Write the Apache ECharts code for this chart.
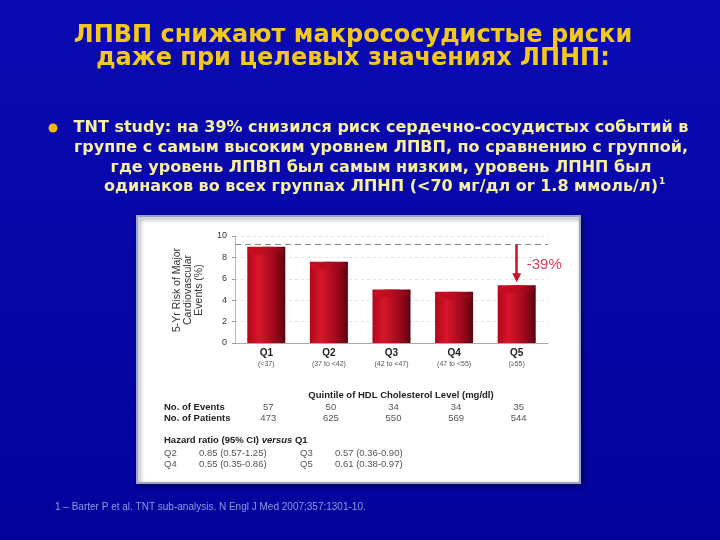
<!DOCTYPE html>
<html><head><meta charset="utf-8">
<script src="https://cdn.jsdelivr.net/npm/echarts@6/dist/echarts.min.js"></script>
<style>html,body{margin:0;padding:0;background:#0606a4}#c{width:720px;height:540px}</style>
</head><body><div id="c"></div>
<script>
const categories = ['Q1','Q2','Q3','Q4','Q5'];
const ranges = ['(<37)','(37 to <42)','(42 to <47)','(47 to <55)','(≥55)'];
const riskValues = [9.0, 7.6, 5.0, 4.8, 5.4];
const refLevel = 9.2;
const arrowEnd = 6.1;
const yTicks = [0, 2, 4, 6, 8, 10];
const events = [57, 50, 34, 34, 35];
const patients = [473, 625, 550, 569, 544];
const hazardRows = [
  ['Q2', '0.85 (0.57-1.25)', 'Q3', '0.57 (0.36-0.90)'],
  ['Q4', '0.55 (0.35-0.86)', 'Q5', '0.61 (0.38-0.97)']
];
const titleLines = ['ЛПВП снижают макрососудистые риски', 'даже при целевых значениях ЛПНП:'];
const bulletLines = [
  'TNT study: на 39% снизился риск сердечно-сосудистых событий в',
  'группе с самым высоким уровнем ЛПВП, по сравнению с группой,',
  'где уровень ЛПВП был самым низким, уровень ЛПНП был',
  'одинаков во всех группах ЛПНП (<70 мг/дл or 1.8 ммоль/л)'
];
const footnote = '1 – Barter P et al. TNT sub-analysis. N Engl J Med 2007;357:1301-10.';

const chart = echarts.init(document.getElementById('c'), null, {renderer:'canvas'});
const barGrad = new echarts.graphic.LinearGradient(0,0,1,0,[
  {offset:0,color:'#b00818'},{offset:0.3,color:'#d8162c'},{offset:0.7,color:'#a0081a'},{offset:1,color:'#5a0410'}]);
const topGrad = new echarts.graphic.LinearGradient(0,0,1,0,[
  {offset:0,color:'#c8101f'},{offset:0.5,color:'#b80c20'},{offset:1,color:'#7a0614'}]);
const F = 'Liberation Sans, Arial, sans-serif';
const BF = '"DejaVu Sans", Verdana, sans-serif';

const option = {
  backgroundColor: new echarts.graphic.LinearGradient(0,0,0,1,[{offset:0,color:'#0a0ab2'},{offset:1,color:'#03039c'}]),
  animation:false,
  grid:{left:235, top:236, width:313, height:107, containLabel:false},
  xAxis:{type:'category', data:categories,
    axisLine:{show:true, lineStyle:{color:'#aaaaaa', width:1}},
    axisTick:{show:false},
    axisLabel:{interval:0, margin:4, lineHeight:12,
      formatter:(v,i)=>'{a|'+v+'}\n{b|'+ranges[i]+'}',
      rich:{a:{fontFamily:F, fontSize:10, fontWeight:'bold', color:'#222', lineHeight:12},
            b:{fontFamily:F, fontSize:7, color:'#555', lineHeight:10}}}},
  yAxis:{type:'value', min:0, max:10, interval:2,
    axisLine:{show:true, lineStyle:{color:'#bbbbbb'}},
    axisTick:{show:true, length:3, lineStyle:{color:'#999'}},
    axisLabel:{fontFamily:F, fontSize:9, color:'#333', margin:8},
    splitLine:{show:true, lineStyle:{color:'#e0e0e0', type:[3,3]}}},
  series:[
    {type:'bar', data:riskValues, barWidth:38, z:2, itemStyle:{color:barGrad},
     markLine:{silent:true, symbol:'none', z:1, label:{show:false},
       lineStyle:{color:'#888', type:[6,4], width:1},
       data:[{yAxis:refLevel}]}},
    {type:'pictorialBar', data:riskValues, symbol:'circle', symbolSize:[38,8],
     symbolPosition:'start', z:1, itemStyle:{color:'#6a0612'}},
    {type:'pictorialBar', data:riskValues, symbol:'circle', symbolSize:[38,8],
     symbolPosition:'end', z:3, itemStyle:{color:topGrad}},
    {type:'line', data:[], z:5,
     markLine:{silent:true, symbol:['none','triangle'], symbolSize:[9,9],
       lineStyle:{color:'#c8102a', width:2.5, type:'solid'},
       label:{show:false},
       data:[[{coord:['Q5', refLevel]},{coord:['Q5', arrowEnd]}]]}},
    {type:'scatter', data:[['Q5', 7.3]], symbolSize:0, z:6,
     label:{show:true, position:'right', offset:[5,0], formatter:'-39%',
       fontFamily:F, fontSize:15, color:'#c8102a'}}
  ]
};
chart.setOption(option);

const px = (c,v)=>chart.convertToPixel({xAxisIndex:0,yAxisIndex:0},[c,v]);
const ctx = document.createElement('canvas').getContext('2d');
const g = [];
g.push({type:'rect', z:-10, silent:true, shape:{x:137,y:216,width:443,height:267},
  style:{fill:'#ffffff', stroke:'#9aa6c8', lineWidth:2, shadowBlur:4, shadowColor:'rgba(0,0,40,0.5)', shadowOffsetX:2, shadowOffsetY:2}});
titleLines.forEach((t,i)=>g.push({type:'text', x:353, y:36+i*23, z:10,
  style:{text:t, fill:'#f2c81c', font:'bold 24px '+BF, textAlign:'center', textVerticalAlign:'middle'}}));
g.push({type:'circle', shape:{cx:53, cy:128, r:4.5}, z:10, style:{fill:'#f5b810'}});
const bfont = 'bold 16px '+BF;
bulletLines.forEach((t,i)=>g.push({type:'text', x:381, y:128+i*19.7, z:10,
  style:{text:t, fill:'#f7f0a0', font:bfont, textAlign:'center', textVerticalAlign:'middle'}}));
ctx.font = bfont;
const lastW = ctx.measureText(bulletLines[3]).width;
g.push({type:'text', x:381+lastW/2+1, y:182, z:10, style:{text:'1', fill:'#f7f0a0', font:'bold 9px '+BF, textVerticalAlign:'middle'}});
g.push({type:'text', x:188, y:290, rotation:Math.PI/2, z:10,
  style:{text:'5-Yr Risk of Major\nCardiovascular\nEvents (%)', fill:'#333', font:'10.5px '+F, textAlign:'center', textVerticalAlign:'middle', lineHeight:11}});
g.push({type:'text', x:401, y:395, z:10,
  style:{text:'Quintile of HDL Cholesterol Level (mg/dl)', fill:'#222', font:'bold 9.5px '+F, textAlign:'center', textVerticalAlign:'middle'}});
g.push({type:'text', x:164, y:407, z:10, style:{text:'No. of Events', fill:'#222', font:'bold 9.5px '+F, textVerticalAlign:'middle'}});
g.push({type:'text', x:164, y:418.5, z:10, style:{text:'No. of Patients', fill:'#222', font:'bold 9.5px '+F, textVerticalAlign:'middle'}});
categories.forEach((c,i)=>{
  const x = px(c,0)[0] + 2;
  g.push({type:'text', x:x, y:407, z:10, style:{text:String(events[i]), fill:'#555', font:'9.5px '+F, textAlign:'center', textVerticalAlign:'middle'}});
  g.push({type:'text', x:x, y:418.5, z:10, style:{text:String(patients[i]), fill:'#555', font:'9.5px '+F, textAlign:'center', textVerticalAlign:'middle'}});
});
g.push({type:'text', x:164, y:440, z:10, style:{text:'{a|Hazard ratio (95% CI) }{b|versus}{a| Q1}', textVerticalAlign:'middle',
  rich:{a:{fontFamily:F, fontSize:9.5, fontWeight:'bold', fill:'#222'}, b:{fontFamily:F, fontSize:9.5, fontWeight:'bold', fontStyle:'italic', fill:'#222'}}}});
hazardRows.forEach((r,i)=>{
  const y = 453 + i*11.5;
  [164, 199, 300, 335].forEach((x,j)=>g.push({type:'text', x:x, y:y, z:10,
    style:{text:r[j], fill:'#555', font:'9.5px '+F, textVerticalAlign:'middle'}}));
});
g.push({type:'text', x:55, y:507, z:10, style:{text:footnote, fill:'#8e9ae2', font:'10px '+F, textVerticalAlign:'middle'}});
chart.setOption({graphic:g});
</script></body></html>
